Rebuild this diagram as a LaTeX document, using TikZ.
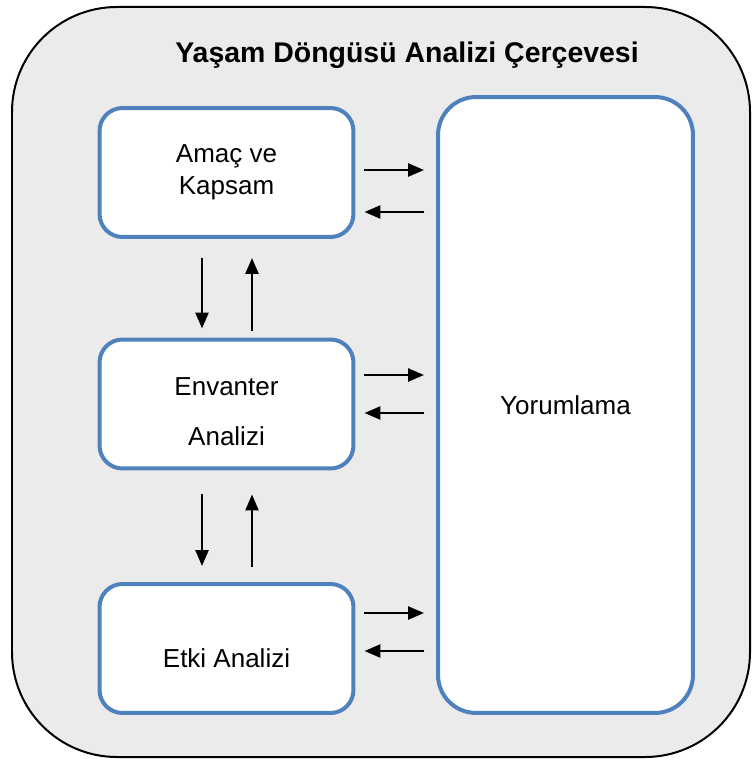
\documentclass[tikz,border=0pt]{standalone}
\usepackage{fontspec}
\setmainfont{Liberation Sans}
\usetikzlibrary{arrows.meta,positioning}
\definecolor{kutumavi}{HTML}{4F81BD}
\definecolor{zemin}{HTML}{EBEBEB}

\begin{document}
\begin{tikzpicture}[x=0.02cm,y=-0.02cm,
                    kutu/.style={draw=kutumavi,fill=white,line width=0.08cm,rounded corners=0.46cm,
                                 minimum width=5.08cm,minimum height=2.58cm,inner sep=0pt,
                                 align=center,font=\fontsize{14.8}{18.2}\selectfont},
                    ok/.style={line width=0.05cm,-{Triangle[length=0.32cm,width=0.26cm]}}]
                    \useasboundingbox (0,0) rectangle (751,763);
                    \draw[fill=zemin,line width=0.04cm,rounded corners=2.1cm] (12,7) rectangle (750,757);
                    \node[anchor=base,font=\fontsize{16.2}{19}\selectfont\bfseries] (baslik) at (407,63)
                        {Yaşam Döngüsü Analizi Çerçevesi};
                    \node[kutu] (amac) at (226.5,172.5) {Amaç ve\\Kapsam};
                    \node[kutu] (envanter) at (226.5,404) {\raisebox{-0.16cm}[\height][\depth]{Envanter}\\[0.36cm]\raisebox{-0.16cm}[\height][\depth]{Analizi}};
                    \node[kutu] (etki) at (226.5,648.5) {\raisebox{-0.19cm}[\height][\depth]{Etki Analizi}};
                    \node[kutu,minimum width=5.1cm,minimum height=12.32cm,rounded corners=0.76cm] (yorum) at (565.5,405) {Yorumlama};
                    \foreach \k/\a/\b in {amac/0.05/-0.79, envanter/0.58/-0.18, etki/0.71/-0.05} {
                        \coordinate (\k git) at ([yshift=\a cm]\k.east);
                        \coordinate (\k gel) at ([yshift=\b cm]\k.east);
                        \draw[ok,shorten <=0.18cm,shorten >=0.24cm] (\k git) -- (\k git -| yorum.west);
                        \draw[ok,shorten <=0.24cm,shorten >=0.18cm] (\k gel -| yorum.west) -- (\k gel);
                    }
                    \draw[ok,shorten <=0.38cm,shorten >=0.18cm] ([xshift=-0.49cm]amac.south) -- ([xshift=-0.49cm]envanter.north);
                    \draw[ok,shorten <=0.14cm,shorten >=0.38cm] ([xshift=0.51cm]envanter.north) -- ([xshift=0.51cm]amac.south);
                    \draw[ok,shorten <=0.48cm,shorten >=0.32cm] ([xshift=-0.49cm]envanter.south) -- ([xshift=-0.49cm]etki.north);
                    \draw[ok,shorten <=0.3cm,shorten >=0.48cm] ([xshift=0.51cm]etki.north) -- ([xshift=0.51cm]envanter.south);
                \end{tikzpicture}
\end{document}
